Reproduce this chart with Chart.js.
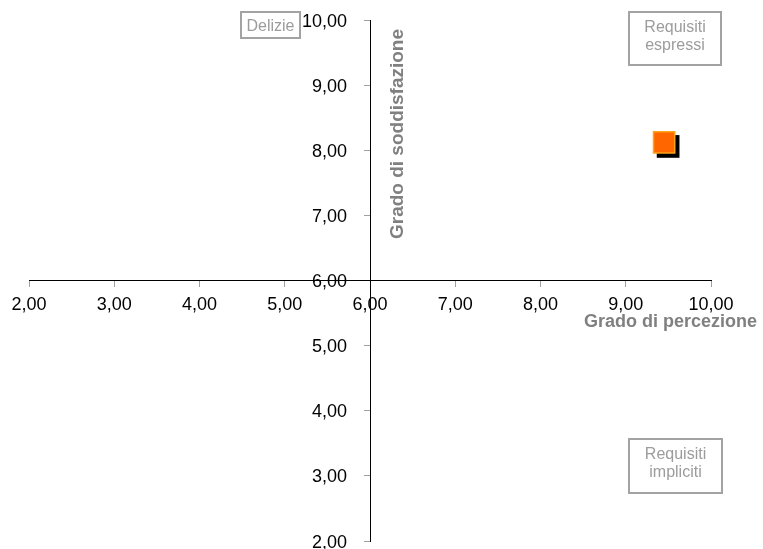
<!DOCTYPE html>
<html>
<head>
<meta charset="utf-8">
<script src="https://cdn.jsdelivr.net/npm/chart.js@4/dist/chart.umd.min.js"></script>
<style>
  html, body { margin: 0; padding: 0; background: #fff; }
</style>
</head>
<body>
<canvas id="chart" width="763" height="549"></canvas>
<script>
// Data: one requirement positioned by perception (x) and satisfaction (y)
const perception = [9.45];
const satisfaction = [8.12];

// Axis range, step and crossing point of the quadrant axes
const axisMin = 2;
const axisMax = 10;
const axisStep = 1;
const axisCross = 6;

// Texts
const xTitle = 'Grado di percezione';
const yTitle = 'Grado di soddisfazione';
const quadrantNotes = [
  ['Delizie'],
  ['Requisiti', 'espressi'],
  ['Requisiti', 'impliciti']
];

const FONT = '"Liberation Sans", Arial, Helvetica, sans-serif';
const fmt = v => Number(v).toFixed(2).replace('.', ',');
const noPad = s => { s.paddingLeft = 0; s.paddingRight = 0; s.paddingTop = 0; s.paddingBottom = 0; };

// Solid black drop shadow under each marker, placed from the point elements
const shadowPlugin = {
  id: 'markShadow',
  beforeDatasetsDraw(chart, args, opts) {
    const c = chart.ctx;
    c.save();
    c.fillStyle = '#000';
    chart.getDatasetMeta(0).data.forEach(el => {
      const half = el.options.radius * Math.SQRT1_2 + el.options.borderWidth / 2;
      c.fillRect(el.x - half + opts.dx, el.y - half + opts.dy, half * 2, half * 2);
    });
    c.restore();
  }
};

// Tick labels of the crossing axes, taken from the scales' own ticks
const axisLabelPlugin = {
  id: 'axisLabels',
  afterDraw(chart, args, opts) {
    const c = chart.ctx;
    const xs = chart.scales.x, ys = chart.scales.y;
    const axisX = xs.getPixelForValue(axisCross);
    const axisY = ys.getPixelForValue(axisCross);
    c.save();
    c.fillStyle = '#000';
    c.font = '18px ' + FONT;
    c.textBaseline = 'alphabetic';
    c.textAlign = 'center';
    xs.ticks.forEach(t => c.fillText(fmt(t.value), xs.getPixelForValue(t.value), axisY + opts.xGap));
    c.textAlign = 'right';
    ys.ticks.forEach(t => c.fillText(fmt(t.value), axisX - opts.yGap, ys.getPixelForValue(t.value) + 6.5));
    c.restore();
  }
};

// Quadrant note boxes and the two axis titles
const notesPlugin = {
  id: 'notes',
  afterDraw(chart, args, opts) {
    const c = chart.ctx;
    c.save();
    opts.boxes.forEach((b, i) => {
      c.strokeStyle = '#a3a3a3';
      c.lineWidth = 2;
      c.strokeRect(b.x, b.y, b.w, b.h);
      c.fillStyle = '#9c9c9c';
      c.font = '16px ' + FONT;
      c.textAlign = 'center';
      c.textBaseline = 'alphabetic';
      quadrantNotes[i].forEach((t, k) => c.fillText(t, b.x + b.w / 2, b.base + k * 18));
    });
    c.fillStyle = '#808080';
    c.font = 'bold 18px ' + FONT;
    c.textAlign = 'right';
    c.textBaseline = 'alphabetic';
    c.fillText(xTitle, opts.xTitle.x, opts.xTitle.y);
    c.font = 'bold 19px ' + FONT;
    c.translate(opts.yTitle.x, opts.yTitle.y);
    c.rotate(-Math.PI / 2);
    c.textAlign = 'center';
    c.fillText(yTitle, 0, 0);
    c.restore();
  }
};

const axisCommon = () => ({
  type: 'linear',
  min: axisMin,
  max: axisMax,
  afterFit: noPad,
  ticks: {
    display: false,
    stepSize: axisStep,
    autoSkip: false,
    maxRotation: 0
  },
  grid: {
    display: true,
    drawOnChartArea: false,
    drawTicks: true,
    tickLength: 6,
    color: '#a0a0a0'
  },
  border: { display: true, color: '#000', width: 1 }
});

new Chart(document.getElementById('chart'), {
  type: 'scatter',
  data: {
    datasets: [{
      data: perception.map((x, i) => ({ x: x, y: satisfaction[i] })),
      pointStyle: 'rect',
      pointRadius: 15,
      pointHoverRadius: 15,
      backgroundColor: '#ff6600',
      borderColor: '#ffa31a',
      borderWidth: 1.5
    }]
  },
  options: {
    responsive: false,
    animation: false,
    layout: { autoPadding: false, padding: { left: 29, right: 52, top: 20, bottom: 8 } },
    plugins: {
      legend: { display: false },
      tooltip: { enabled: false },
      markShadow: { dx: 4, dy: 4 },
      axisLabels: { xGap: 29, yGap: 23 },
      notes: {
        boxes: [
          { x: 241, y: 12, w: 59, h: 26, base: 31 },
          { x: 629, y: 12, w: 92, h: 53, base: 32 },
          { x: 629, y: 439, w: 93, h: 54, base: 459 }
        ],
        xTitle: { x: 757, y: 327 },
        yTitle: { x: 403, y: 134 }
      }
    },
    scales: {
      x: Object.assign(axisCommon(), { position: { y: axisCross } }),
      y: Object.assign(axisCommon(), { position: { x: axisCross } })
    }
  },
  plugins: [shadowPlugin, axisLabelPlugin, notesPlugin]
});
</script>
</body>
</html>
